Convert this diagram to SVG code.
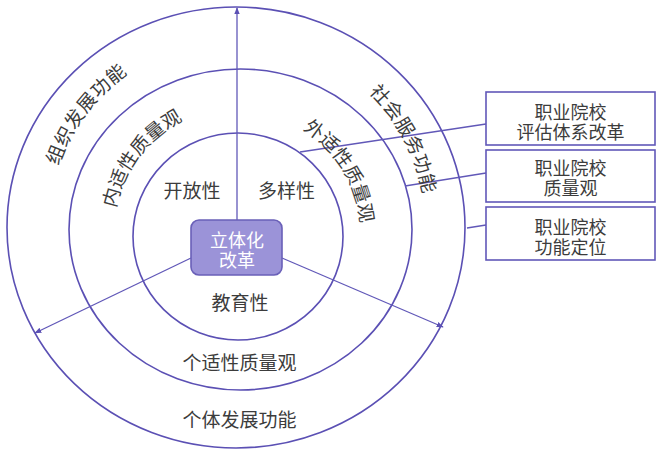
<svg xmlns="http://www.w3.org/2000/svg" width="657" height="456" viewBox="0 0 657 456">
<style>
.ring{fill:none;stroke:#5b50b4;stroke-width:1.6}
.ln{fill:none;stroke:#6158b8;stroke-width:1.3}
.t{font-family:"Noto Sans CJK SC","Noto Sans",sans-serif;fill:#3c3c3c;font-size:19px}
.bt{font-family:"Noto Sans CJK SC","Noto Sans",sans-serif;fill:#3c3c3c;font-size:18px;text-anchor:middle}
.box{fill:#ffffff;stroke:#6158b8;stroke-width:1.6}
</style>
<defs>
<marker id="ah" viewBox="0 0 10 10" refX="9" refY="5" markerWidth="7" markerHeight="7" orient="auto" markerUnits="userSpaceOnUse">
<path d="M0,1 L10,5 L0,9 Z" fill="#5b50b4"/>
</marker>
<path id="pOutL" d="M48.3,237.9 A189,189 0 0 1 194.5,43.8"/>
<path id="pOutR" d="M307.8,52.8 A189,189 0 0 1 421.9,267.3"/>
<path id="pMidL" d="M113.6,238.7 A125.5,125.5 0 0 1 211.6,110.5"/>
<path id="pMidR" d="M277.5,117.9 A121.4,121.4 0 0 1 359.1,250.9"/>
</defs>
<rect width="657" height="456" fill="#ffffff"/>
<g id="rings">
<ellipse class="ring" cx="236" cy="227.5" rx="229" ry="220.5"/>
<ellipse class="ring" cx="240.5" cy="229.5" rx="171.5" ry="160.5"/>
<ellipse class="ring" cx="238" cy="236.5" rx="105" ry="103.5"/>
</g>
<g id="connectors">
<line class="ln" x1="237" y1="220" x2="237" y2="8" marker-end="url(#ah)"/>
<line class="ln" x1="191" y1="258" x2="35" y2="333" marker-end="url(#ah)"/>
<line class="ln" x1="282" y1="258" x2="443" y2="327" marker-end="url(#ah)"/>
<line class="ln" x1="486" y1="124" x2="300" y2="152"/>
<line class="ln" x1="486" y1="173" x2="405" y2="186"/>
<line class="ln" x1="486" y1="225" x2="467" y2="228"/>
</g>
<g id="ring-labels">
<text class="t" letter-spacing="0.6"><textPath href="#pOutL" startOffset="50%" text-anchor="middle">组织发展功能</textPath></text>
<text class="t" letter-spacing="0.6"><textPath href="#pOutR" startOffset="50%" text-anchor="middle">社会服务功能</textPath></text>
<text class="t"><textPath href="#pMidL" startOffset="50%" text-anchor="middle">内适性质量观</textPath></text>
<text class="t"><textPath href="#pMidR" startOffset="50%" text-anchor="middle">外适性质量观</textPath></text>
<text class="t" x="192" y="198" text-anchor="middle">开放性</text>
<text class="t" x="286.5" y="198" text-anchor="middle">多样性</text>
<text class="t" x="240" y="310" text-anchor="middle">教育性</text>
<text class="t" x="239.5" y="369.5" text-anchor="middle">个适性质量观</text>
<text class="t" x="239.5" y="427" text-anchor="middle">个体发展功能</text>
</g>
<g id="center">
<rect x="191" y="220" width="91" height="55" rx="8" fill="#9b93d8" stroke="#6a60b8" stroke-width="1.6"/>
<text x="237" y="246.5" text-anchor="middle" font-family="Noto Sans CJK SC, sans-serif" font-size="18" fill="#ffffff">立体化</text>
<text x="237" y="266.5" text-anchor="middle" font-family="Noto Sans CJK SC, sans-serif" font-size="18" fill="#ffffff">改革</text>
</g>
<g id="box1">
<rect class="box" x="486" y="92" width="169" height="53"/>
<text class="bt" x="570.5" y="118.5">职业院校</text>
<text class="bt" x="570.5" y="138.5">评估体系改革</text>
</g>
<g id="box2">
<rect class="box" x="486" y="150" width="169" height="52"/>
<text class="bt" x="570.5" y="175">职业院校</text>
<text class="bt" x="570.5" y="195">质量观</text>
</g>
<g id="box3">
<rect class="box" x="486" y="207" width="169" height="53"/>
<text class="bt" x="570.5" y="233.5">职业院校</text>
<text class="bt" x="570.5" y="253.5">功能定位</text>
</g>
</svg>
